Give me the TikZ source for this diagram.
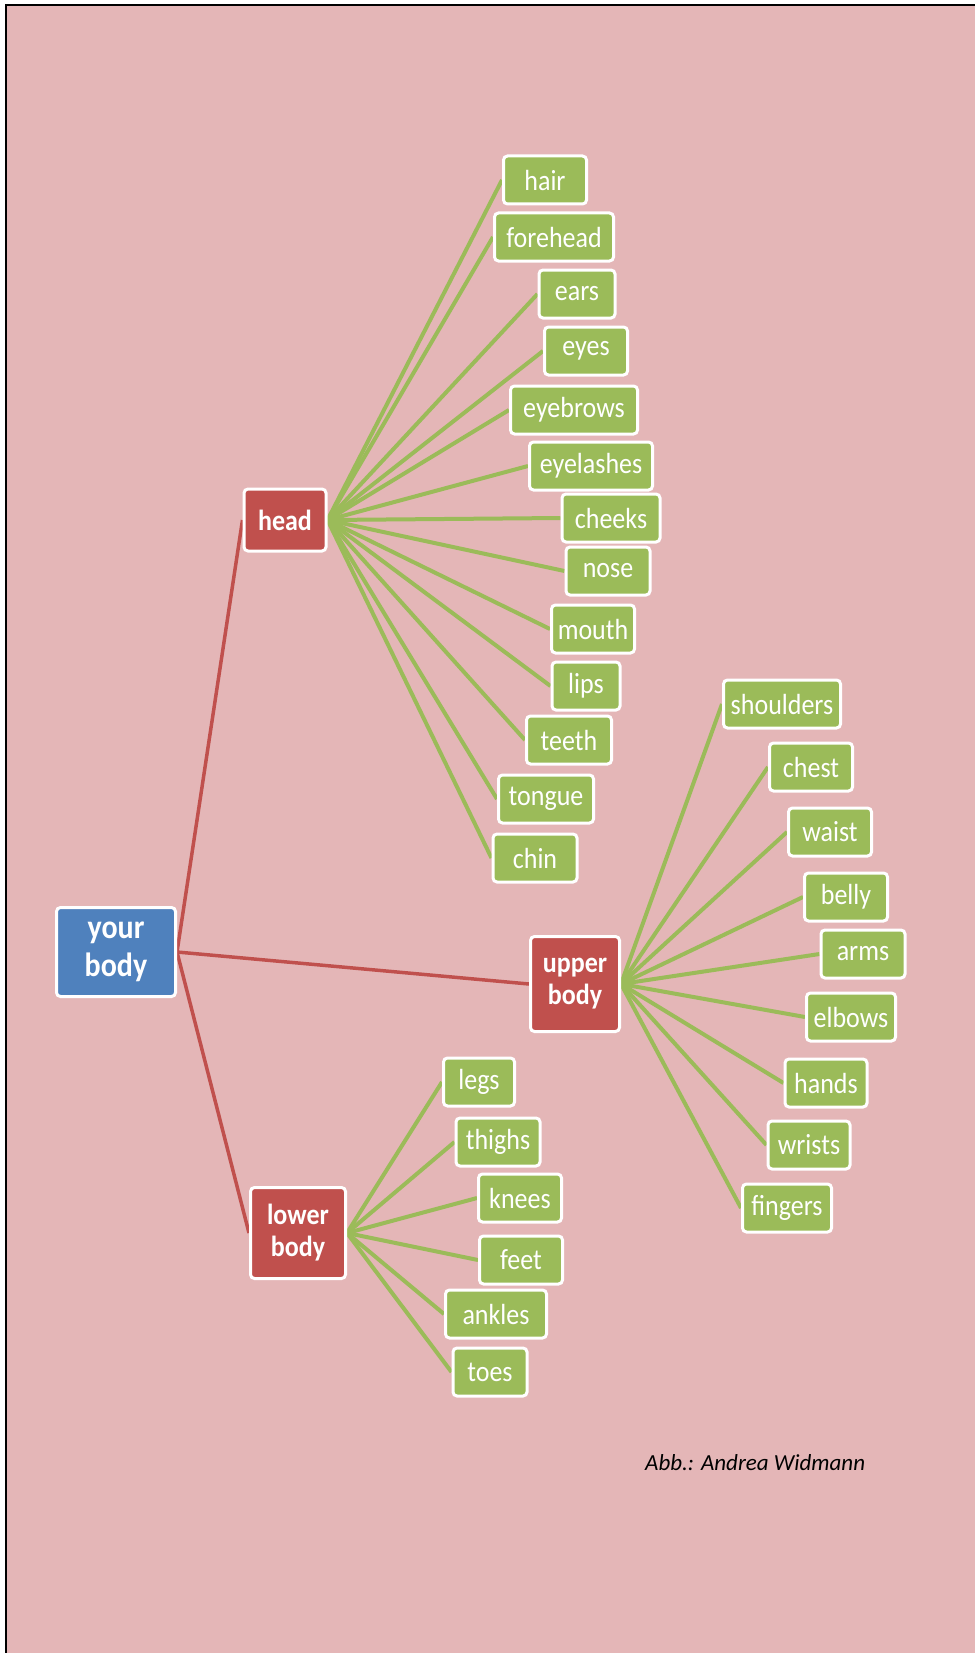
\documentclass[tikz,border=0pt]{standalone}
\usepackage{graphicx}
\usepackage{fontspec}
\setmainfont{Carlito}
\definecolor{bgpink}{HTML}{E4B6B7}
\definecolor{leafgreen}{HTML}{9BBB59}
\definecolor{hubred}{HTML}{C0504D}
\definecolor{rootblue}{HTML}{4F81BD}
\newcommand\vst[1]{\scalebox{1}[1.12]{#1}}
\pgfdeclarelayer{bg}
\pgfdeclarelayer{lines}
\pgfsetlayers{bg,lines,main}
\tikzset{
  box/.style={rectangle, rounded corners=4pt, draw=white, line width=3pt,
    text=white, inner sep=0pt, align=center, minimum height=48pt},
  leaf/.style={box, fill=leafgreen, font=\fontsize{26}{28}\selectfont},
  hub/.style={box, fill=hubred, font=\bfseries\fontsize{26}{32}\selectfont},
  root/.style={box, fill=rootblue, font=\bfseries\fontsize{30}{38}\selectfont},
  greenlink/.style={draw=leafgreen, line width=4pt},
  redlink/.style={draw=hubred, line width=3.5pt},
}
\begin{document}
\begin{tikzpicture}[x=1pt,y=-1pt]
\useasboundingbox (0,0) rectangle (975,1653);
\begin{pgfonlayer}{bg}
  \fill[white] (0,0) rectangle (975,1653);
  \fill[bgpink] (6,5) rectangle (975,1653);
  \draw[black, line width=2pt] (5,5) -- (975,5);
  \draw[black, line width=2pt] (6,5) -- (6,1653);
\end{pgfonlayer}

% root and hubs
\node[root, minimum width=119pt, minimum height=89pt] (root) at (116,952) {\vst{your}\\\vst{body}};
\node[hub, minimum width=82pt, minimum height=62pt] (head) at (285,520) {\vst{head}};
\node[hub, minimum width=89pt, minimum height=95pt] (upper) at (575,984) {\vst{upper}\\\vst{body}};
\node[hub, minimum width=95pt, minimum height=91pt] (lower) at (298,1233) {\vst{lower}\\\vst{body}};

% head leaves
\node[leaf, minimum width=83pt] (hair) at (545,180) {\vst{hair}};
\node[leaf, minimum width=119pt] (forehead) at (554,237) {\vst{forehead}};
\node[leaf, minimum width=76pt] (ears) at (577,294) {\vst{ears}};
\node[leaf, minimum width=83pt] (eyes) at (586,351) {\vst{eyes}};
\node[leaf, minimum width=127pt] (eyebrows) at (574,410) {\vst{eyebrows}};
\node[leaf, minimum width=123pt] (eyelashes) at (591,466) {\vst{eyelashes}};
\node[leaf, minimum width=98pt] (cheeks) at (611,518) {\vst{cheeks}};
\node[leaf, minimum width=84pt] (nose) at (608,571) {\vst{nose}};
\node[leaf, minimum width=83pt] (mouth) at (593,629) {\vst{mouth}};
\node[leaf, minimum width=68pt] (lips) at (586,686) {\vst{lips}};
\node[leaf, minimum width=85pt] (teeth) at (569,740) {\vst{teeth}};
\node[leaf, minimum width=95pt] (tongue) at (546,799) {\vst{tongue}};
\node[leaf, minimum width=84pt] (chin) at (535,858) {\vst{chin}};

% upper body leaves
\node[leaf, minimum width=117pt] (shoulders) at (782,704) {\vst{shoulders}};
\node[leaf, minimum width=83pt] (chest) at (811,767) {\vst{chest}};
\node[leaf, minimum width=83pt] (waist) at (830,832) {\vst{waist}};
\node[leaf, minimum width=83pt] (belly) at (846,897) {\vst{belly}};
\node[leaf, minimum width=84pt] (arms) at (863,954) {\vst{arms}};
\node[leaf, minimum width=89pt] (elbows) at (851,1017) {\vst{elbows}};
\node[leaf, minimum width=82pt] (hands) at (826,1083) {\vst{hands}};
\node[leaf, minimum width=82pt] (wrists) at (809,1145) {\vst{wrists}};
\node[leaf, minimum width=89pt] (fingers) at (787,1208) {\vst{fingers}};

% lower body leaves
\node[leaf, minimum width=71pt] (legs) at (479,1082) {\vst{legs}};
\node[leaf, minimum width=84pt] (thighs) at (498,1142) {\vst{thighs}};
\node[leaf, minimum width=83pt] (knees) at (520,1198) {\vst{knees}};
\node[leaf, minimum width=83pt] (feet) at (521,1260) {\vst{feet}};
\node[leaf, minimum width=101pt] (ankles) at (496,1314) {\vst{ankles}};
\node[leaf, minimum width=74pt] (toes) at (490,1372) {\vst{toes}};

% attribution
\node[anchor=base west, inner sep=0pt, font=\itshape\fontsize{23}{28}\selectfont] (credit) at (645,1470) {Abb.: Andrea Widmann};

\begin{pgfonlayer}{lines}
  \foreach \h in {head,upper,lower}
    \draw[redlink] (root.east) -- (\h.west);
  \foreach \c in {hair,forehead,ears,eyes,eyebrows,eyelashes,cheeks,nose,mouth,lips,teeth,tongue,chin}
    \draw[greenlink] (head.east) -- (\c.west);
  \foreach \c in {shoulders,chest,waist,belly,arms,elbows,hands,wrists,fingers}
    \draw[greenlink] (upper.east) -- (\c.west);
  \foreach \c in {legs,thighs,knees,feet,ankles,toes}
    \draw[greenlink] (lower.east) -- (\c.west);
\end{pgfonlayer}
\end{tikzpicture}
\end{document}
